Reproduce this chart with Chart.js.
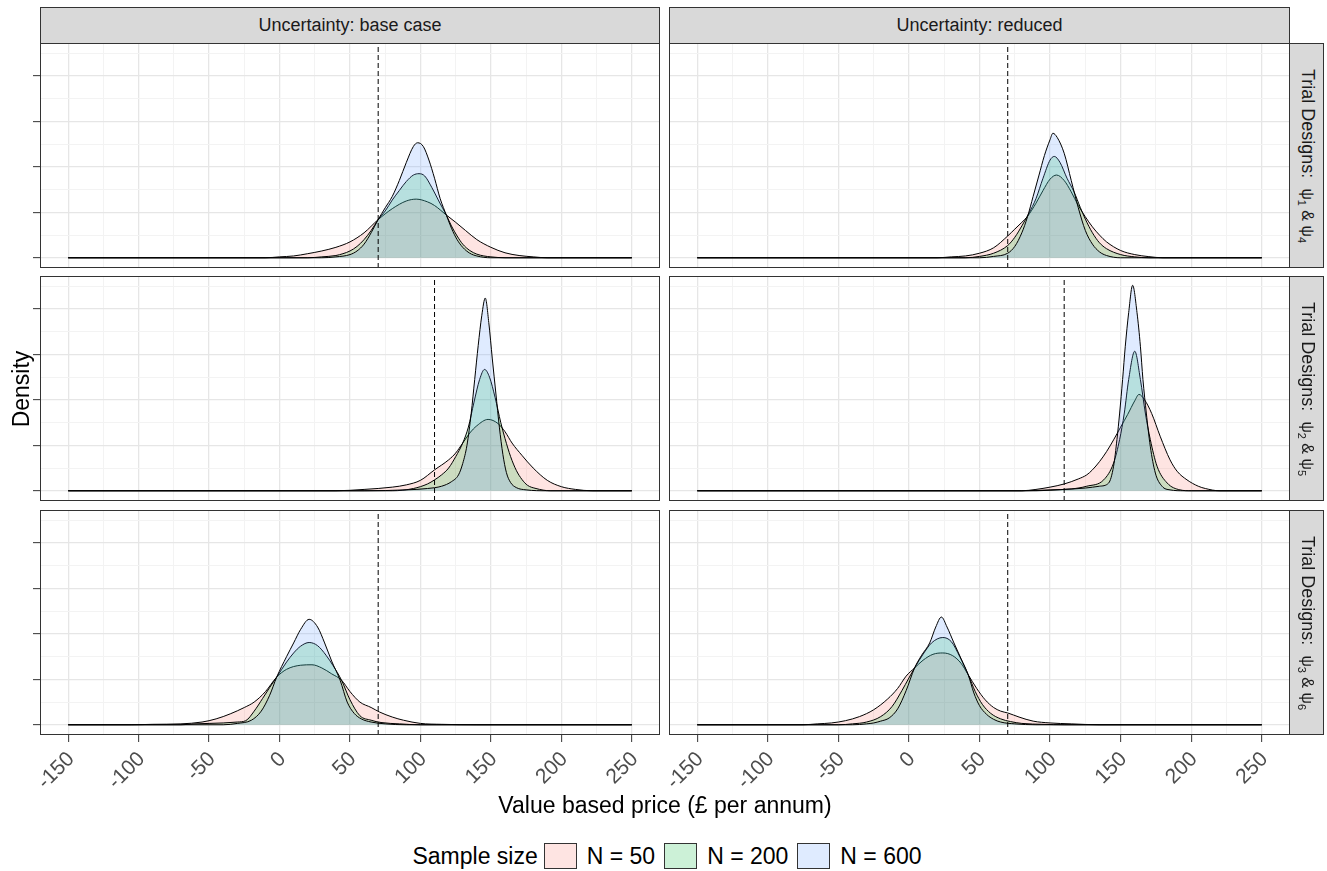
<!DOCTYPE html>
<html>
<head>
<meta charset="utf-8">
<script src="https://cdn.jsdelivr.net/npm/chart.js@4.4.1/dist/chart.umd.min.js"></script>
<style>
  body { margin: 0; background: #fff; font-family: "Liberation Sans", Arial, sans-serif; }
  #fig { position: relative; width: 1327px; height: 871px; overflow: hidden; }
  #fig canvas { position: absolute; }
  .border { position: absolute; border: 1px solid #333; box-sizing: border-box; pointer-events: none; }
  .strip { position: absolute; background: #d9d9d9; border: 1px solid #333; box-sizing: border-box; color: #1a1a1a; font-size: 18px; }
  .strip.top { display: flex; align-items: center; justify-content: center; }
  .strip .rot { position: absolute; left: 50%; top: 50%; transform: translate(-50%, -50%) rotate(90deg); white-space: nowrap; }
  .psi { font-size: 16px; }
  .psi sub { font-size: 11px; }
  .title { position: absolute; font-size: 23px; color: #000; white-space: nowrap; }
  #legend { position: absolute; left: 167px; width: 1000px; top: 842px; height: 28px; display: flex; align-items: center; justify-content: center; font-size: 23px; color: #000; }
  .key { width: 33px; height: 26px; border: 1px solid #333; box-sizing: border-box; }
</style>
</head>
<body>
<div id="fig"></div>
<script>
// axis ticks (density axis has no labels; values are density x 10^-3)
const xTicks = [-150, -100, -50, 0, 50, 100, 150, 200, 250];
const xMinorTicks = [-125, -75, -25, 25, 75, 125, 175, 225];
const yTicks = [0, 10, 20, 30, 40];
const yMinorTicks = [5, 15, 25, 35, 45];
const X_MIN = -170, X_MAX = 270, Y_MIN = -2.25, Y_MAX = 47.25;
const gridFrom = -150, gridTo = 250;

const columns = ['Uncertainty: base case', 'Uncertainty: reduced'];
const designs = [[1, 4], [2, 5], [3, 6]];
const sampleSizes = ['N = 50', 'N = 200', 'N = 600'];
const thresholdBase = [70, 110, 70];
const thresholdReduced = [70, 110, 70];

// density curves [price, density]
const base_r1_n50 = [[-10,0],[0,0.2],[10,0.4],[20,0.9],[30,1.5],[40,2.3],[50,3.5],[60,5.5],[70,8.4],[80,10.8],[90,12.5],[97,12.9],[105,12.3],[110,11.5],[118,9.5],[125,7.8],[132,6],[140,4],[150,2.3],[160,1.1],[170,0.5],[180,0.2],[190,0]];
const base_r1_n200 = [[20,0],[30,0.2],[40,0.5],[45,0.9],[50,1.5],[55,2.5],[60,4],[65,6],[70,8.4],[75,10.3],[80,12.7],[85,14.8],[90,16.8],[95,18.2],[99,18.5],[103,18],[108,15.5],[113,12.5],[118.5,9.3],[122,7],[126,4.8],[130,3],[135,1.6],[140,0.8],[145,0.4],[150,0.2],[160,0]];
const base_r1_n600 = [[30,0],[40,0.2],[50,0.7],[55,1.5],[60,3],[65,5.5],[70,8.4],[75,11],[80,13.5],[85,17],[90,21],[95,24.5],[98,25.3],[102,24.5],[106,21.5],[110,17.5],[114,13],[118.5,9.3],[122,6.5],[126,4],[130,2.3],[135,1],[140,0.4],[150,0]];

const base_r2_n50 = [[40,0],[60,0.3],[80,0.8],[90,1.3],[100,2.3],[110,4.6],[120,6.8],[125,8.3],[130,10.5],[135,12.7],[140,14.3],[148,15.7],[155,14.8],[160,13],[165,10.5],[172,7.8],[180,5],[190,2.3],[200,0.9],[210,0.3],[222,0]];
const base_r2_n200 = [[80,0],[95,0.5],[105,1.5],[110,2.4],[115,3.5],[120,5],[125,7.5],[130,10.5],[134,14],[138,19.5],[142,24.5],[145.5,26.7],[149,25],[153,20.5],[157,15],[160,11.5],[164,7.5],[168,4.5],[172,2.5],[176,1.2],[182,0.5],[192,0]];
const base_r2_n600 = [[60,0],[90,0.2],[105,0.5],[115,1],[122,2],[127,3.5],[130,6],[133,10],[136,17],[138.5,24.5],[141,32],[143.5,38.5],[146,42.4],[148.5,37],[151,29],[153.5,21.5],[156,14],[158.5,8],[161,4],[164,1.8],[168,0.7],[175,0.2],[190,0]];

const base_r3_n50 = [[-105,0],[-90,0.1],[-70,0.2],[-55,0.6],[-45,1.3],[-35,2.4],[-25,3.8],[-18,5],[-10,7.3],[-2,10.5],[5,12.2],[15,13.1],[23,13.2],[30,12.5],[37,11.2],[44,9.8],[50,7.3],[57,5],[65,3.8],[71,2.8],[80,1.7],[88,1],[100,0.3],[115,0.1],[140,0]];
const base_r3_n200 = [[-70,0],[-60,0.2],[-40,0.4],[-30,0.6],[-24,0.9],[-18,3],[-12,5.8],[-7,8.2],[-2,10.5],[5,13.8],[10,15.8],[15,17.3],[21,18.1],[27,17.4],[33,15.3],[38,13],[44,9.8],[50,5.5],[57,2],[65,1],[72,0.5],[85,0.2],[100,0]];
const base_r3_n600 = [[-40,0],[-30,0.3],[-20,1],[-13,3],[-7,6.5],[-2,10.5],[5,15],[10,18],[15,21],[21,23.2],[27,21.5],[32,18],[37,14],[43,9.8],[48,5],[53,2.5],[58,1.3],[65,0.6],[75,0.2],[90,0]];

const reduced_r1_n50 = [[20,0],[30,0.2],[40,0.4],[50,1],[60,2.2],[70,4.8],[75,6.3],[80,7.8],[84,9.1],[90,12],[95,14.8],[100,17.3],[104.6,18.2],[110,17],[115,14.5],[120,11.5],[124.8,9.1],[130,6.8],[135,5],[140,3.5],[150,1.6],[160,0.7],[170,0.25],[180,0]];
const reduced_r1_n200 = [[40,0],[50,0.3],[60,1],[70,2.7],[75,4.5],[80,7],[85,9.8],[90,13],[95,17.5],[100,21.5],[103,22.3],[107,21],[112,17.5],[117,14.5],[121.5,11],[125,8.5],[130,5.5],[135,3.3],[140,2],[150,0.7],[160,0.2],[170,0]];
const reduced_r1_n600 = [[50,0],[60,0.3],[70,1],[75,2.5],[80,5.5],[84,9],[88,13.5],[92,18],[96,22.5],[100,26],[102,27.4],[105,26.5],[110,23],[115,17],[120,11],[125,6],[130,3],[135,1.3],[140,0.5],[150,0]];

const reduced_r2_n50 = [[80,0],[90,0.3],[100,0.8],[110,1.5],[120,2.6],[126,3.5],[130,4.6],[135,6.4],[140,8.6],[145,11.2],[150,14],[155,16.8],[160,19.8],[163,21.2],[167,20],[172,17],[178,12],[185,6.8],[190,4.3],[197,2.4],[205,1],[210,0.5],[220,0]];
const reduced_r2_n200 = [[80,0],[100,0.2],[115,0.4],[126,1],[138,2.4],[145,6.1],[149.3,11.3],[152.6,17.1],[155.7,24.5],[160,30.7],[164,24.5],[167.5,17.1],[171,11.3],[175.8,5.4],[183,1.7],[192,0.2],[200,0]];
const reduced_r2_n600 = [[90,0],[110,0.3],[125,0.6],[135,1],[141.5,1.7],[145,5.4],[147.4,11.3],[149.3,17.1],[151.4,24.5],[153.3,31.8],[155.7,39.2],[158.5,45.2],[161.6,39.2],[164,31.8],[165.8,24.5],[168.2,17.1],[171,9.8],[174.6,3.9],[179.3,1],[185,0.2],[195,0]];

const reduced_r3_n50 = [[-75,0],[-65,0.2],[-55,0.4],[-45,0.9],[-35,1.8],[-25,3.3],[-15,5.7],[-8,8],[-2,10.7],[4,12.5],[10,14.2],[17,15.5],[24,15.8],[31,15.2],[37,13.5],[42,11],[48,8],[54,5.5],[60,3.8],[65,3],[70,2.6],[78,1.7],[88,0.8],[100,0.4],[115,0.2],[135,0]];
const reduced_r3_n200 = [[-50,0],[-40,0.2],[-30,0.6],[-20,1.8],[-12,4],[-5,7.5],[0,10.3],[4,12.5],[10,15.5],[16,18],[24,19.2],[30,18.3],[36,15],[42,11],[47,7.3],[52,4.5],[58,2.5],[65,1.3],[72,0.7],[80,0.3],[95,0.1],[110,0]];
const reduced_r3_n600 = [[-40,0],[-30,0.2],[-25,0.4],[-20,0.8],[-14,1.5],[-8,3.5],[-2,7.5],[4,12.5],[9,15.3],[14.7,18],[19,21.5],[23,23.7],[27,21.5],[31.9,18],[37,14.5],[42,11],[46,7],[50,4.2],[55,2.3],[60,1.2],[65,0.6],[75,0.2],[90,0]];

const panels = [
  [[base_r1_n50, base_r1_n200, base_r1_n600], [reduced_r1_n50, reduced_r1_n200, reduced_r1_n600]],
  [[base_r2_n50, base_r2_n200, base_r2_n600], [reduced_r2_n50, reduced_r2_n200, reduced_r2_n600]],
  [[base_r3_n50, base_r3_n200, base_r3_n600], [reduced_r3_n50, reduced_r3_n200, reduced_r3_n600]]
];
const thresholds = [thresholdBase, thresholdReduced];

const fills = ['rgba(248,118,109,0.2)', 'rgba(0,186,56,0.2)', 'rgba(97,156,255,0.2)'];
const FONT = '"Liberation Sans", Arial, sans-serif';
const colLeft = [40, 669], colWidth = [620, 621];
const rowTop = [43, 276, 510];
const PANEL_H = 225, TICK = 7, XLAB_H = 62;

const fig = document.getElementById('fig');
const allX = xTicks.concat(xMinorTicks).sort((a, b) => a - b);
const allY = yTicks.concat(yMinorTicks).sort((a, b) => a - b);

function withGrid(pts) {
  const out = pts.slice();
  if (out[0][0] > gridFrom) out.unshift([gridFrom, 0]);
  if (out[out.length - 1][0] < gridTo) out.push([gridTo, 0]);
  return out;
}

function gridColor(major) { return major ? '#e6e6e6' : '#f3f3f3'; }

function makePanel(row, col) {
  const isLeft = col === 0, isBottom = row === 2;
  const cv = document.createElement('canvas');
  const w = colWidth[col] + (isLeft ? TICK : 0);
  const h = PANEL_H + (isBottom ? XLAB_H : 0);
  cv.width = w; cv.height = h;
  cv.style.width = w + 'px'; cv.style.height = h + 'px';
  cv.style.left = (colLeft[col] - (isLeft ? TICK : 0)) + 'px';
  cv.style.top = rowTop[row] + 'px';
  fig.appendChild(cv);

  const datasets = panels[row][col].map((pts, i) => ({
    label: sampleSizes[i],
    data: withGrid(pts).map(([x, y]) => ({ x, y })),
    borderColor: '#000',
    borderWidth: 1,
    backgroundColor: fills[i],
    fill: 'origin',
    pointRadius: 0,
    cubicInterpolationMode: 'monotone',
    order: 3 - i
  }));
  const t = thresholds[col][row];
  datasets.push({
    label: 'threshold',
    data: [{ x: t, y: Y_MIN }, { x: t, y: Y_MAX }],
    borderColor: '#000',
    borderWidth: 1,
    borderDash: [5, 3],
    pointRadius: 0,
    fill: false,
    order: 0
  });

  new Chart(cv.getContext('2d'), {
    type: 'line',
    data: { datasets },
    options: {
      animation: false,
      responsive: false,
      devicePixelRatio: 1,
      events: [],
      layout: { padding: 0 },
      plugins: { legend: { display: false }, tooltip: { enabled: false } },
      scales: {
        x: {
          type: 'linear', min: X_MIN, max: X_MAX,
          afterBuildTicks: ax => { ax.ticks = allX.map(v => ({ value: v })); },
          afterFit: ax => { ax.height = isBottom ? XLAB_H : 0; ax.paddingLeft = 0; ax.paddingRight = 0; },
          border: { display: false },
          grid: {
            color: c => gridColor(c.tick && xTicks.includes(c.tick.value)),
            lineWidth: c => (c.tick && xTicks.includes(c.tick.value)) ? 1.3 : 1,
            drawTicks: isBottom, tickLength: TICK, tickWidth: 1,
            tickColor: c => (c.tick && xTicks.includes(c.tick.value)) ? '#333' : 'rgba(0,0,0,0)'
          },
          ticks: {
            display: isBottom, autoSkip: false, minRotation: 45, maxRotation: 45,
            padding: 5, labelOffset: 3,
            color: '#4d4d4d', font: { family: FONT, size: 21 },
            callback: v => xTicks.includes(v) ? String(v) : ''
          }
        },
        y: {
          type: 'linear', min: Y_MIN, max: Y_MAX,
          afterBuildTicks: ax => { ax.ticks = allY.map(v => ({ value: v })); },
          afterFit: ax => { ax.width = isLeft ? TICK : 0; ax.paddingTop = 0; ax.paddingBottom = 0; },
          border: { display: false },
          grid: {
            color: c => gridColor(c.tick && yTicks.includes(c.tick.value)),
            lineWidth: c => (c.tick && yTicks.includes(c.tick.value)) ? 1.3 : 1,
            drawTicks: isLeft, tickLength: TICK, tickWidth: 1,
            tickColor: c => (c.tick && yTicks.includes(c.tick.value)) ? '#333' : 'rgba(0,0,0,0)'
          },
          ticks: { display: false }
        }
      }
    }
  });

  const b = document.createElement('div');
  b.className = 'border';
  Object.assign(b.style, { left: colLeft[col] + 'px', top: rowTop[row] + 'px', width: colWidth[col] + 'px', height: PANEL_H + 'px' });
  fig.appendChild(b);
}

for (let r = 0; r < 3; r++) for (let c = 0; c < 2; c++) makePanel(r, c);

// column strips
columns.forEach((txt, c) => {
  const s = document.createElement('div');
  s.className = 'strip top';
  Object.assign(s.style, { left: colLeft[c] + 'px', top: '7px', width: colWidth[c] + 'px', height: '37px' });
  s.textContent = txt;
  fig.appendChild(s);
});

// row strips
designs.forEach(([a, b], r) => {
  const s = document.createElement('div');
  s.className = 'strip';
  Object.assign(s.style, { left: '1289px', top: rowTop[r] + 'px', width: '35px', height: PANEL_H + 'px' });
  s.innerHTML = '<span class="rot">Trial Designs:&nbsp; <span class="psi">\u03c8<sub>' + a + '</sub> &amp; \u03c8<sub>' + b + '</sub></span></span>';
  fig.appendChild(s);
});

// axis titles
const yt = document.createElement('div');
yt.className = 'title';
yt.textContent = 'Density';
Object.assign(yt.style, { left: '21px', top: '389px', transform: 'translate(-50%,-50%) rotate(-90deg)' });
fig.appendChild(yt);

const xt = document.createElement('div');
xt.className = 'title';
xt.textContent = 'Value based price (\u00a3 per annum)';
Object.assign(xt.style, { left: '665px', top: '805px', transform: 'translate(-50%,-50%)' });
fig.appendChild(xt);

// legend
const keyColors = ['#fee4e2', '#ccf1d7', '#dfebff'];
const lg = document.createElement('div');
lg.id = 'legend';
let html = '<span style="margin-right:6px">Sample size</span>';
sampleSizes.forEach((s, i) => {
  html += '<span class="key" style="background:' + keyColors[i] + '"></span>';
  html += '<span style="margin:0 ' + (i < 2 ? 9 : 0) + 'px 0 10px">' + s + '</span>';
});
lg.innerHTML = html;
fig.appendChild(lg);
</script>
</body>
</html>
